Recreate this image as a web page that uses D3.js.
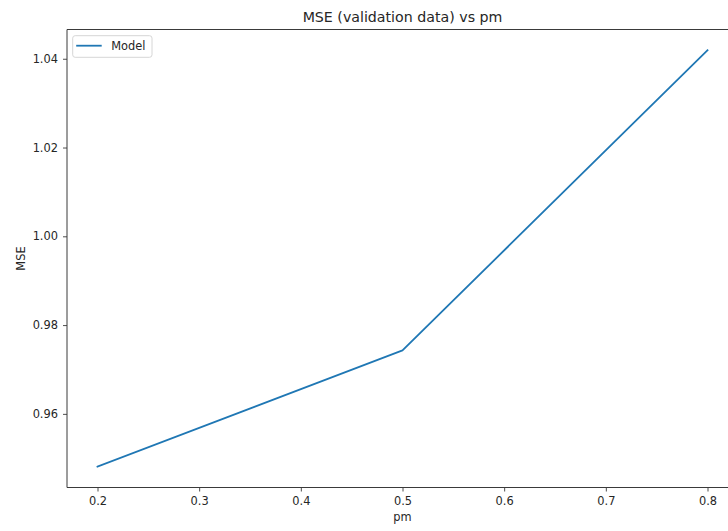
<!DOCTYPE html>
<html>
<head>
<meta charset="utf-8">
<script src="https://cdn.jsdelivr.net/npm/d3@7"></script>
<style>
  html, body { margin: 0; padding: 0; background: #fff; }
  svg { display: block; font-family: "DejaVu Sans", sans-serif; }
</style>
</head>
<body>
<svg id="chart" width="728" height="531"></svg>
<script>
// MSE on validation data for each pm setting
const pmValues = [0.2, 0.5, 0.8];
const mseValues = [0.9481, 0.9743, 1.0419];
const xTicks = [0.2, 0.3, 0.4, 0.5, 0.6, 0.7, 0.8];
const yTicks = [0.96, 0.98, 1.00, 1.02, 1.04];
const seriesName = "Model";

const svg = d3.select("#chart");
const plot = { left: 67, top: 29.5, right: 738, bottom: 487.5 };

// 5% padding around the data range on both axes
const xr = d3.extent(pmValues), xpad = (xr[1] - xr[0]) * 0.05;
const yr = d3.extent(mseValues), ypad = (yr[1] - yr[0]) * 0.05;

const x = d3.scaleLinear().domain([xr[0] - xpad, xr[1] + xpad]).range([plot.left, plot.right]);
const y = d3.scaleLinear().domain([yr[0] - ypad, yr[1] + ypad]).range([plot.bottom, plot.top]);

const textColor = "#262626";
const spineColor = "#3a3a3a";
const tickFont = "11.4px";

// x axis
const gx = svg.append("g")
  .attr("transform", `translate(0,${plot.bottom})`)
  .call(d3.axisBottom(x).tickValues(xTicks).tickFormat(d3.format(".1f")).tickSizeOuter(0).tickSize(4).tickPadding(5.5));
// y axis
const gy = svg.append("g")
  .attr("transform", `translate(${plot.left},0)`)
  .call(d3.axisLeft(y).tickValues(yTicks).tickFormat(d3.format(".2f")).tickSizeOuter(0).tickSize(4).tickPadding(5));

[gx, gy].forEach(g => {
  g.select(".domain").remove();
  g.selectAll(".tick line").attr("stroke", spineColor).attr("stroke-width", 0.9);
  g.selectAll(".tick text").attr("fill", textColor).style("font-size", tickFont).style("font-family", "DejaVu Sans, sans-serif");
});

// spines
const spines = [
  [plot.left, plot.top, plot.left, plot.bottom],
  [plot.left, plot.bottom, plot.right, plot.bottom],
  [plot.left, plot.top, plot.right, plot.top],
  [plot.right, plot.top, plot.right, plot.bottom]
];
svg.selectAll("line.spine").data(spines).join("line").attr("class", "spine")
  .attr("x1", d => d[0]).attr("y1", d => d[1]).attr("x2", d => d[2]).attr("y2", d => d[3])
  .attr("stroke", spineColor).attr("stroke-width", 1);

// series line
const line = d3.line().x((d, i) => x(pmValues[i])).y(d => y(d));
svg.append("path")
  .datum(mseValues)
  .attr("fill", "none")
  .attr("stroke", "#1f77b4")
  .attr("stroke-width", 1.8)
  .attr("stroke-linejoin", "round")
  .attr("stroke-linecap", "square")
  .attr("d", line);

// title and axis labels
const midX = (plot.left + plot.right) / 2;
svg.append("text").attr("x", midX).attr("y", 21.5).attr("text-anchor", "middle")
  .attr("fill", textColor).style("font-size", "14.2px").text("MSE (validation data) vs pm");
svg.append("text").attr("x", midX).attr("y", 520.5).attr("text-anchor", "middle")
  .attr("fill", textColor).style("font-size", tickFont).text("pm");
svg.append("text").attr("transform", `translate(24.5,${(plot.top + plot.bottom) / 2}) rotate(-90)`)
  .attr("text-anchor", "middle").attr("fill", textColor).style("font-size", tickFont).text("MSE");

// legend
const lg = svg.append("g").attr("transform", `translate(${plot.left + 5.7},${plot.top + 6.2})`);
lg.append("rect").attr("x", 0).attr("y", 0).attr("width", 79.3).attr("height", 21.6).attr("rx", 2.5)
  .attr("fill", "#fff").attr("fill-opacity", 0.8).attr("stroke", "#d6d6d6").attr("stroke-width", 1);
lg.append("line").attr("x1", 3.5).attr("x2", 29).attr("y1", 10).attr("y2", 10)
  .attr("stroke", "#1f77b4").attr("stroke-width", 1.8);
lg.append("text").attr("x", 38.5).attr("y", 14.8).attr("fill", textColor).style("font-size", tickFont).text(seriesName);
</script>
</body>
</html>
